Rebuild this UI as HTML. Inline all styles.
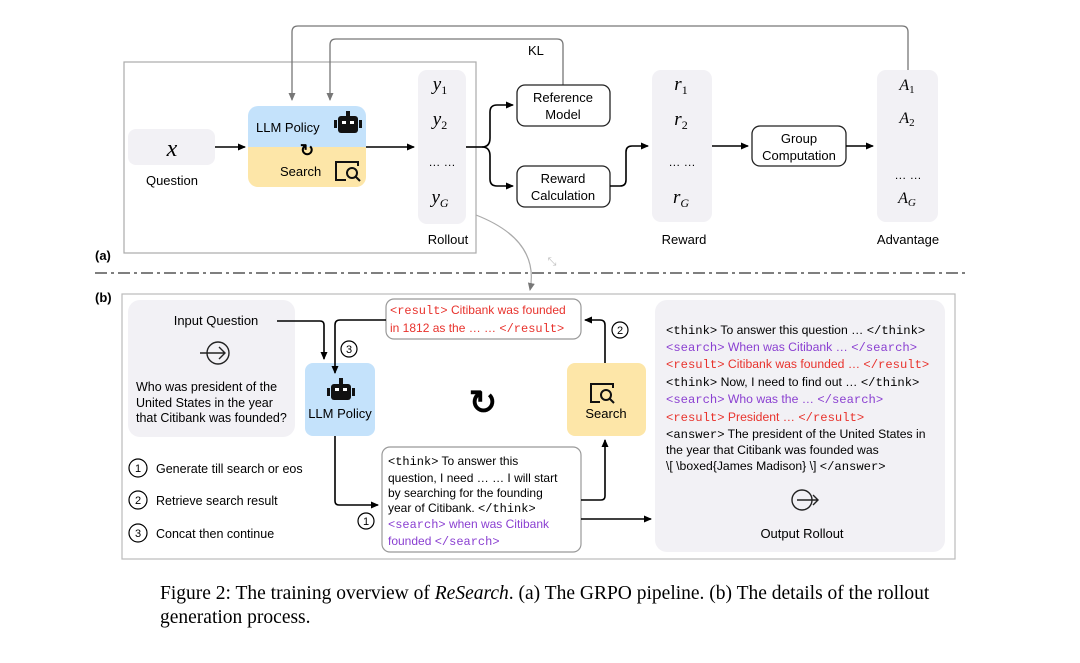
<!DOCTYPE html>
<html><head><meta charset="utf-8"><style>
html,body{margin:0;padding:0;background:#fff;}
svg{display:block;}
.s{font-family:"Liberation Sans",sans-serif;}
.m{font-family:"Liberation Serif",serif;font-style:italic;}
</style></head><body>
<svg width="1080" height="663" viewBox="0 0 1080 663" xmlns="http://www.w3.org/2000/svg" class="s">
<defs>
<marker id="a" markerWidth="8" markerHeight="8" refX="7" refY="4" orient="auto" markerUnits="userSpaceOnUse"><path d="M0,0.5 L8,4 L0,7.5z" fill="#000"/></marker>
<marker id="g" markerWidth="8" markerHeight="8" refX="7" refY="4" orient="auto" markerUnits="userSpaceOnUse"><path d="M0,0.5 L8,4 L0,7.5z" fill="#777"/></marker>
</defs>
<!-- panel a -->
<rect x="124" y="62" width="352" height="191" fill="none" stroke="#aaa" stroke-width="1.2"/>
<path d="M908,70 V32 Q908,26 902,26 H298 Q292,26 292,32 V100" fill="none" stroke="#777" stroke-width="1.3" marker-end="url(#g)"/>
<path d="M563,85 V45 Q563,39 557,39 H336 Q330,39 330,45 V100" fill="none" stroke="#777" stroke-width="1.3" marker-end="url(#g)"/>
<text x="528" y="55" font-size="13">KL</text>
<rect x="128" y="129" width="87" height="36" rx="8" fill="#f2f1f5"/>
<text x="172" y="156" class="m" font-size="24" text-anchor="middle">x</text>
<text x="172" y="185" font-size="13" text-anchor="middle">Question</text>
<path d="M248,116 a10,10 0 0 1 10,-10 h98 a10,10 0 0 1 10,10 v31 h-118z" fill="#c4e2fb"/>
<path d="M248,147 h118 v30 a10,10 0 0 1 -10,10 h-98 a10,10 0 0 1 -10,-10z" fill="#fde6a8"/>
<text x="256" y="132" font-size="13">LLM Policy</text>
<rect x="338" y="116" width="20" height="17" rx="3" fill="#111"/><rect x="346" y="111" width="4" height="6" fill="#111"/>
<rect x="334" y="120" width="3" height="8" fill="#111"/><rect x="359" y="120" width="3" height="8" fill="#111"/>
<rect x="342" y="121" width="4" height="3" fill="#fff"/><rect x="350" y="121" width="4" height="3" fill="#fff"/>
<text x="307" y="156" font-size="17" text-anchor="middle" font-weight="bold">↻</text>
<text x="280" y="176" font-size="13">Search</text>
<path d="M346,180 h-10 v-18 h22 v4" fill="none" stroke="#111" stroke-width="2"/>
<circle cx="352" cy="173" r="5" fill="none" stroke="#111" stroke-width="2"/><path d="M356,177 l4,4" stroke="#111" stroke-width="2"/>
<path d="M215,147 H245" stroke="#000" stroke-width="1.6" marker-end="url(#a)"/>
<path d="M366,147 H414" stroke="#000" stroke-width="1.6" marker-end="url(#a)"/>
<rect x="418" y="70" width="48" height="154" rx="9" fill="#f2f1f5"/>
<text x="440" y="90" class="m" font-size="19" text-anchor="middle">y<tspan font-size="12" font-style="normal" dy="4">1</tspan></text>
<text x="440" y="125" class="m" font-size="19" text-anchor="middle">y<tspan font-size="12" font-style="normal" dy="4">2</tspan></text>
<text x="442" y="166" font-size="12" text-anchor="middle">… …</text>
<text x="440" y="203" class="m" font-size="19" text-anchor="middle">y<tspan font-size="12" dy="4">G</tspan></text>
<text x="448" y="244" font-size="13" text-anchor="middle">Rollout</text>
<path d="M466,147 H482" stroke="#000" stroke-width="1.6"/>
<path d="M482,147 Q490,147 490,138 V112 Q490,105 497,105 H513" fill="none" stroke="#000" stroke-width="1.6" marker-end="url(#a)"/>
<path d="M482,147 Q490,147 490,156 V179 Q490,186 497,186 H513" fill="none" stroke="#000" stroke-width="1.6" marker-end="url(#a)"/>
<rect x="517" y="85" width="93" height="41" rx="8" fill="#fff" stroke="#222" stroke-width="1.3"/>
<text x="563" y="102" font-size="13" text-anchor="middle">Reference</text><text x="563" y="119" font-size="13" text-anchor="middle">Model</text>
<rect x="517" y="166" width="93" height="41" rx="8" fill="#fff" stroke="#222" stroke-width="1.3"/>
<text x="563" y="183" font-size="13" text-anchor="middle">Reward</text><text x="563" y="200" font-size="13" text-anchor="middle">Calculation</text>
<path d="M610,186 H620 Q626,186 626,180 V152 Q626,146 632,146 H648" fill="none" stroke="#000" stroke-width="1.6" marker-end="url(#a)"/>
<rect x="652" y="70" width="60" height="152" rx="9" fill="#f2f1f5"/>
<text x="681" y="90" class="m" font-size="19" text-anchor="middle">r<tspan font-size="12" font-style="normal" dy="4">1</tspan></text>
<text x="681" y="125" class="m" font-size="19" text-anchor="middle">r<tspan font-size="12" font-style="normal" dy="4">2</tspan></text>
<text x="682" y="166" font-size="12" text-anchor="middle">… …</text>
<text x="681" y="203" class="m" font-size="19" text-anchor="middle">r<tspan font-size="12" dy="4">G</tspan></text>
<text x="684" y="244" font-size="13" text-anchor="middle">Reward</text>
<path d="M712,146 H748" stroke="#000" stroke-width="1.6" marker-end="url(#a)"/>
<rect x="752" y="126" width="94" height="40" rx="8" fill="#fff" stroke="#222" stroke-width="1.3"/>
<text x="799" y="143" font-size="13" text-anchor="middle">Group</text><text x="799" y="160" font-size="13" text-anchor="middle">Computation</text>
<path d="M846,146 H873" stroke="#000" stroke-width="1.6" marker-end="url(#a)"/>
<rect x="877" y="70" width="61" height="152" rx="9" fill="#f2f1f5"/>
<text x="907" y="90" class="m" font-size="16" text-anchor="middle">A<tspan font-size="11" font-style="normal" dy="3">1</tspan></text>
<text x="907" y="123" class="m" font-size="16" text-anchor="middle">A<tspan font-size="11" font-style="normal" dy="3">2</tspan></text>
<text x="908" y="179" font-size="12" text-anchor="middle">… …</text>
<text x="907" y="203" class="m" font-size="16" text-anchor="middle">A<tspan font-size="11" dy="3">G</tspan></text>
<text x="908" y="244" font-size="13" text-anchor="middle">Advantage</text>
<text x="95" y="260" font-size="13" font-weight="bold">(a)</text>
<path d="M476,215 Q540,240 530,290" fill="none" stroke="#aaa" stroke-width="1.2" marker-end="url(#g)"/>
<text x="552" y="265" font-size="11" fill="#bbb" text-anchor="middle">⤡</text>
<line x1="95" y1="273" x2="965" y2="273" stroke="#333" stroke-width="1.2" stroke-dasharray="12,4,3,4"/>
<text x="95" y="302" font-size="13" font-weight="bold">(b)</text>
<!-- panel b -->
<rect x="122" y="294" width="833" height="265" fill="none" stroke="#bbb" stroke-width="1.2"/>
<rect x="128" y="300" width="167" height="137" rx="12" fill="#f2f1f5"/>
<text x="216" y="325" font-size="13" text-anchor="middle">Input Question</text>
<circle cx="218" cy="353" r="11" fill="none" stroke="#222" stroke-width="1.4"/><path d="M200,353 H225 M219,347 l6,6 l-6,6" fill="none" stroke="#222" stroke-width="1.4"/>
<text x="136" y="391" font-size="12.5">Who was president of the</text>
<text x="136" y="407" font-size="12.5">United States in the year</text>
<text x="136" y="422" font-size="12.5">that Citibank was founded?</text>
<path d="M277,321 H320 Q324,321 324,325 V359" fill="none" stroke="#000" stroke-width="1.6" marker-end="url(#a)"/>
<rect x="305" y="363" width="70" height="73" rx="8" fill="#c4e2fb"/>
<rect x="331" y="384" width="20" height="16" rx="3" fill="#111"/><rect x="339" y="378" width="4" height="6" fill="#111"/>
<rect x="327" y="388" width="3" height="8" fill="#111"/><rect x="352" y="388" width="3" height="8" fill="#111"/>
<rect x="335" y="388" width="4" height="3" fill="#fff"/><rect x="343" y="388" width="4" height="3" fill="#fff"/>
<text x="340" y="418" font-size="13" text-anchor="middle">LLM Policy</text>
<rect x="386" y="299" width="195" height="40" rx="8" fill="#fff" stroke="#999" stroke-width="1.2"/>
<text x="390" y="314" font-size="12" fill="#e8322c"><tspan font-family="Liberation Mono">&lt;result&gt;</tspan> Citibank was founded</text>
<text x="390" y="332" font-size="12" fill="#e8322c">in 1812 as the … … <tspan font-family="Liberation Mono">&lt;/result&gt;</tspan></text>
<path d="M386,320 H340 Q335,320 335,325 V373" fill="none" stroke="#000" stroke-width="1.6" marker-end="url(#a)"/>
<circle cx="349" cy="349" r="8" fill="#fff" stroke="#000" stroke-width="1.2"/><text x="349" y="353" font-size="11" text-anchor="middle">3</text>
<text x="483" y="414" font-size="34" font-weight="bold" text-anchor="middle">↻</text>
<rect x="567" y="363" width="79" height="73" rx="8" fill="#fde6a8"/>
<path d="M600,402 h-9 v-18 h22 v4" fill="none" stroke="#111" stroke-width="2"/>
<circle cx="606" cy="395" r="5" fill="none" stroke="#111" stroke-width="2"/><path d="M610,399 l4,4" stroke="#111" stroke-width="2"/>
<text x="606" y="418" font-size="13" text-anchor="middle">Search</text>
<path d="M605,363 V325 Q605,320 600,320 H585" fill="none" stroke="#000" stroke-width="1.6" marker-end="url(#a)"/>
<circle cx="620" cy="330" r="8" fill="#fff" stroke="#000" stroke-width="1.2"/><text x="620" y="334" font-size="11" text-anchor="middle">2</text>
<rect x="382" y="447" width="199" height="105" rx="8" fill="#fff" stroke="#999" stroke-width="1.2"/>
<text x="388" y="465" font-size="12"><tspan font-family="Liberation Mono">&lt;think&gt;</tspan> To answer this</text>
<text x="388" y="482" font-size="12">question, I need … … I will start</text>
<text x="388" y="497" font-size="12">by searching for the founding</text>
<text x="388" y="512" font-size="12">year of Citibank. <tspan font-family="Liberation Mono">&lt;/think&gt;</tspan></text>
<text x="388" y="528" font-size="12" fill="#8a3fd1"><tspan font-family="Liberation Mono">&lt;search&gt;</tspan> when was Citibank</text>
<text x="388" y="545" font-size="12" fill="#8a3fd1">founded <tspan font-family="Liberation Mono">&lt;/search&gt;</tspan></text>
<path d="M335,436 V501 Q335,505 339,505 H378" fill="none" stroke="#000" stroke-width="1.6" marker-end="url(#a)"/>
<circle cx="366" cy="521" r="8" fill="#fff" stroke="#000" stroke-width="1.2"/><text x="366" y="525" font-size="11" text-anchor="middle">1</text>
<path d="M581,500 H601 Q605,500 605,496 V440" fill="none" stroke="#000" stroke-width="1.6" marker-end="url(#a)"/>
<path d="M581,519 H651" stroke="#000" stroke-width="1.6" marker-end="url(#a)"/>
<circle cx="138" cy="468" r="9" fill="none" stroke="#000" stroke-width="1.2"/><text x="138" y="472" font-size="11" text-anchor="middle">1</text>
<text x="156" y="473" font-size="12.5">Generate till search or eos</text>
<circle cx="138" cy="500" r="9" fill="none" stroke="#000" stroke-width="1.2"/><text x="138" y="504" font-size="11" text-anchor="middle">2</text>
<text x="156" y="505" font-size="12.5">Retrieve search result</text>
<circle cx="138" cy="533" r="9" fill="none" stroke="#000" stroke-width="1.2"/><text x="138" y="537" font-size="11" text-anchor="middle">3</text>
<text x="156" y="538" font-size="12.5">Concat then continue</text>
<rect x="655" y="300" width="290" height="252" rx="12" fill="#f2f1f5"/>
<g font-size="12.2">
<text x="666" y="334"><tspan font-family="Liberation Mono">&lt;think&gt;</tspan> To answer this question … <tspan font-family="Liberation Mono">&lt;/think&gt;</tspan></text>
<text x="666" y="351" fill="#8a3fd1"><tspan font-family="Liberation Mono">&lt;search&gt;</tspan> When was Citibank … <tspan font-family="Liberation Mono">&lt;/search&gt;</tspan></text>
<text x="666" y="368" fill="#e8322c"><tspan font-family="Liberation Mono">&lt;result&gt;</tspan> Citibank was founded … <tspan font-family="Liberation Mono">&lt;/result&gt;</tspan></text>
<text x="666" y="386"><tspan font-family="Liberation Mono">&lt;think&gt;</tspan> Now, I need to find out … <tspan font-family="Liberation Mono">&lt;/think&gt;</tspan></text>
<text x="666" y="403" fill="#8a3fd1"><tspan font-family="Liberation Mono">&lt;search&gt;</tspan> Who was the … <tspan font-family="Liberation Mono">&lt;/search&gt;</tspan></text>
<text x="666" y="421" fill="#e8322c"><tspan font-family="Liberation Mono">&lt;result&gt;</tspan>  President  … <tspan font-family="Liberation Mono">&lt;/result&gt;</tspan></text>
<text x="666" y="438"><tspan font-family="Liberation Mono">&lt;answer&gt;</tspan> The president of the United States in</text>
<text x="666" y="454">the year that Citibank was founded was</text>
<text x="666" y="470">\[ \boxed{James Madison} \] <tspan font-family="Liberation Mono">&lt;/answer&gt;</tspan></text>
</g>
<circle cx="802" cy="500" r="10" fill="none" stroke="#222" stroke-width="1.4"/><path d="M797,500 H818 M813,495 l5,5 l-5,5" fill="none" stroke="#222" stroke-width="1.4"/>
<text x="802" y="538" font-size="13" text-anchor="middle">Output Rollout</text>
<!-- caption -->
<text x="160" y="599" font-family="Liberation Serif" font-size="19.5">Figure 2: The training overview of <tspan font-style="italic">ReSearch</tspan>. (a) The GRPO pipeline. (b) The details of the rollout</text>
<text x="160" y="623" font-family="Liberation Serif" font-size="19.5">generation process.</text>
</svg>
</body></html>
